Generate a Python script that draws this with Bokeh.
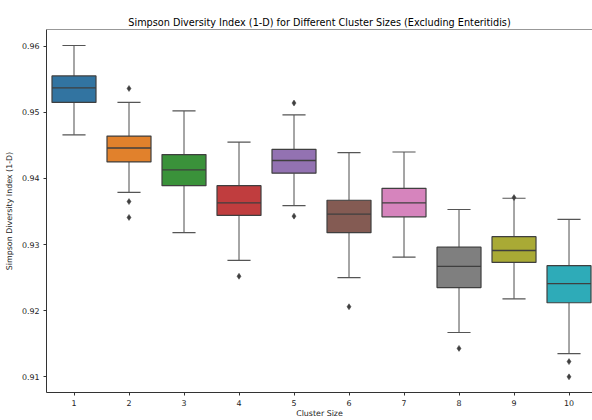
from bokeh.plotting import figure
from bokeh.models import FixedTicker, PrintfTickFormatter, Span, ColumnDataSource
from bokeh.embed import file_html
from bokeh.resources import INLINE

# ---- data ----
clusters = [1, 2, 3, 4, 5, 6, 7, 8, 9, 10]
lower_whisker = [0.9466, 0.9379, 0.9318, 0.9276, 0.9359, 0.9250, 0.9281, 0.9167, 0.9218, 0.9135]
q1 = [0.9515, 0.9425, 0.9389, 0.9344, 0.9408, 0.9318, 0.9342, 0.9235, 0.9273, 0.9212]
median = [0.9537, 0.9446, 0.9413, 0.9363, 0.9427, 0.9346, 0.9363, 0.9267, 0.9291, 0.9241]
q3 = [0.9555, 0.9464, 0.9436, 0.9389, 0.9444, 0.9367, 0.9385, 0.9296, 0.9312, 0.9268]
upper_whisker = [0.9601, 0.9515, 0.9502, 0.9455, 0.9496, 0.9439, 0.9440, 0.9353, 0.9370, 0.9338]
outlier_cluster = [2, 2, 2, 4, 5, 5, 6, 8, 9, 10, 10]
outlier_value = [0.9536, 0.9365, 0.9341, 0.9252, 0.9514, 0.9343, 0.9206, 0.9143, 0.9371, 0.9123, 0.9100]
colors = ["#3274a1", "#e1812c", "#3a923a", "#c03d3e", "#9372b2",
          "#845b53", "#d684bd", "#7f7f7f", "#a9aa35", "#2eabb8"]
y_ticks = [0.91, 0.92, 0.93, 0.94, 0.95, 0.96]
title_text = "Simpson Diversity Index (1-D) for Different Cluster Sizes (Excluding Enteritidis)"
x_label = "Cluster Size"
y_label = "Simpson Diversity Index (1-D)"

Y_START, Y_END = 0.90763, 0.96252
BOX_W = 0.8
CAP_W = 0.42
LINE = "#3f3f3f"
FONT = "DejaVu Sans"

src = ColumnDataSource(dict(
    x=clusters, lo=lower_whisker, q1=q1, med=median, q3=q3, hi=upper_whisker, color=colors,
    bx0=[c - BOX_W / 2 for c in clusters], bx1=[c + BOX_W / 2 for c in clusters],
    cx0=[c - CAP_W / 2 for c in clusters], cx1=[c + CAP_W / 2 for c in clusters],
))

p = figure(width=592, height=420, output_backend="svg", toolbar_location=None,
           x_range=(0.5, 10.427), y_range=(Y_START, Y_END),
           min_border_left=46, min_border_right=0, min_border_top=29, min_border_bottom=27,
           title=title_text)
p.title.text_font = FONT
p.title.text_font_size = "9.7px"
p.title.text_font_style = "normal"
p.title.text_color = "#000000"
p.title.align = "center"
p.title.standoff = 4
p.title.offset = 2

p.outline_line_color = None
p.xgrid.visible = False
p.ygrid.visible = False
p.background_fill_color = "white"
p.border_fill_color = "white"

# whiskers
p.segment(x0="x", y0="q3", x1="x", y1="hi", source=src, line_color="#6a6a6a", line_width=1.2)
p.segment(x0="x", y0="lo", x1="x", y1="q1", source=src, line_color="#6a6a6a", line_width=1.2)
# caps
p.segment(x0="cx0", y0="hi", x1="cx1", y1="hi", source=src, line_color="#555555", line_width=1.2)
p.segment(x0="cx0", y0="lo", x1="cx1", y1="lo", source=src, line_color="#555555", line_width=1.2)
# boxes
p.vbar(x="x", width=BOX_W, bottom="q1", top="q3", source=src,
       fill_color="color", line_color=LINE, line_width=1.2)
# medians
p.segment(x0="bx0", y0="med", x1="bx1", y1="med", source=src, line_color=LINE, line_width=1.4)
# outliers
p.scatter(x=outlier_cluster, y=outlier_value, marker="diamond", size=6,
          fill_color=LINE, line_color=LINE, line_width=0.5)

# top spine
p.add_layout(Span(location=Y_END, dimension="width", line_color="#333333", line_width=1))

for ax in (p.xaxis[0], p.yaxis[0]):
    ax.axis_line_color = "#333333"
    ax.axis_line_width = 1
    ax.major_tick_line_color = "#333333"
    ax.major_tick_out = 3
    ax.major_tick_in = 0
    ax.minor_tick_line_color = None
    ax.major_label_text_font = FONT
    ax.major_label_text_font_size = "7.9px"
    ax.major_label_text_color = "#222222"
    ax.axis_label_text_font = FONT
    ax.axis_label_text_font_size = "7.9px"
    ax.axis_label_text_font_style = "normal"
    ax.axis_label_text_color = "#222222"

p.xaxis.ticker = FixedTicker(ticks=clusters)
p.xaxis.axis_label = x_label
p.xaxis.major_label_standoff = 4
p.xaxis.axis_label_standoff = 0

p.yaxis.ticker = FixedTicker(ticks=y_ticks)
p.yaxis.formatter = PrintfTickFormatter(format="%.2f")
p.yaxis.axis_label = y_label
p.yaxis.major_label_standoff = 4
p.yaxis.axis_label_standoff = 5

open("out.html", "w").write(file_html(p, INLINE))
